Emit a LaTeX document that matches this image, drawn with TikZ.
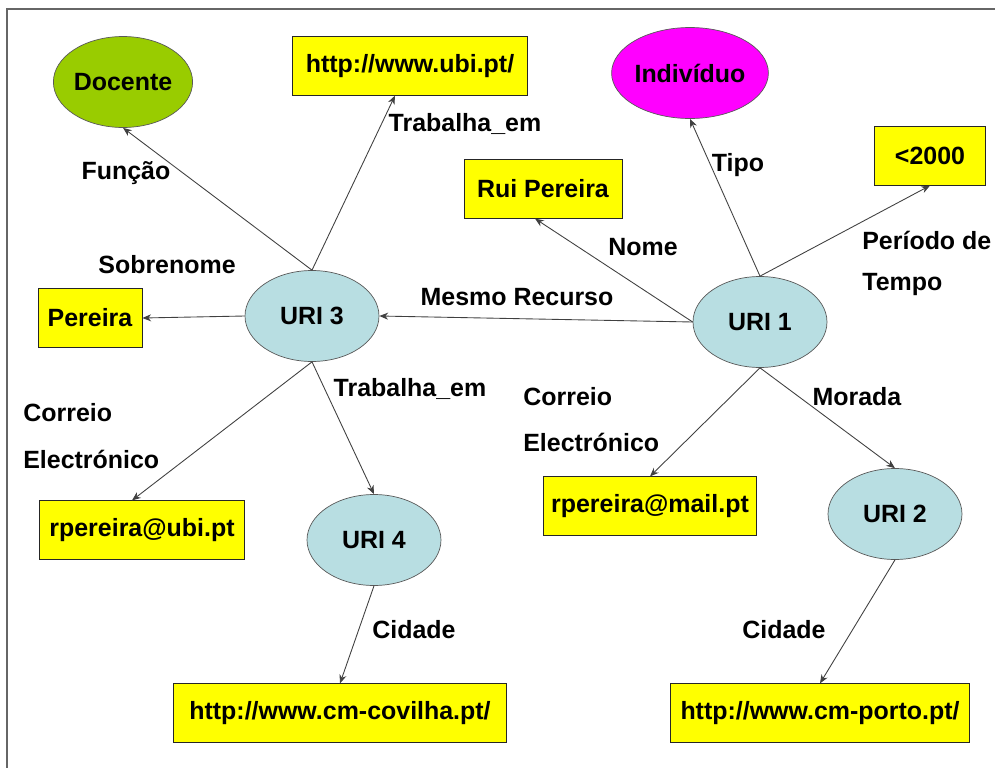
\documentclass[tikz,border=0pt]{standalone}
\usepackage{fontspec}
\setmainfont{Liberation Sans}
\usetikzlibrary{shapes.geometric, arrows.meta}

\definecolor{amarelo}{HTML}{FFFF00}
\definecolor{azulclaro}{HTML}{B8DEE2}
\definecolor{verde}{HTML}{99CC00}
\definecolor{magenta}{HTML}{FF00FF}

\begin{document}
\begin{tikzpicture}[x=0.02cm, y=-0.02cm,
		literal/.style={draw=black!85, fill=amarelo, minimum height=1.17cm, inner sep=0pt},
		recurso/.style={ellipse, draw=black!65, fill=azulclaro, minimum width=2.68cm, minimum height=1.82cm, inner sep=0pt},
		rotulo/.style={inner sep=0pt},
		seta/.style={draw=black!75, line width=0.5pt, -{Stealth[length=5pt,width=4pt]}}]
			\useasboundingbox (0,0) rectangle (995,768);
			\fontsize{14.2}{16}\selectfont\bfseries
			\draw[black!60, line width=1.1pt] (7,768) -- (7,9) -- (995,9);
			
			\node[recurso, fill=verde] (docente) at (123,82) {Docente};
			\node[recurso, fill=magenta] (indiv) at (690,73) {Indivíduo};
			\node[recurso] (uri3) at (312,316) {URI 3};
			\node[recurso] (uri1) at (760,322) {URI 1};
			\node[recurso] (uri4) at (374,540) {URI 4};
			\node[recurso] (uri2) at (895,514) {URI 2};
			
			\node[literal, minimum width=4.7cm] (ubi) at (410,66) {http://www.ubi.pt/};
			\node[literal, minimum width=2.22cm] (ano) at (930,156) {<2000};
			\node[literal, minimum width=3.16cm] (rui) at (543,189) {Rui Pereira};
			\node[literal, minimum width=2.08cm] (pereira) at (90,318) {Pereira};
			\node[literal, minimum width=4.1cm] (ubimail) at (142,530) {rpereira@ubi.pt};
			\node[literal, minimum width=4.26cm] (mail) at (650,506) {rpereira@mail.pt};
			\node[literal, minimum width=6.66cm] (covilha) at (340,713) {http://www.cm-covilha.pt/};
			\node[literal, minimum width=5.98cm] (porto) at (820,713) {http://www.cm-porto.pt/};
			
			\draw[seta] (uri3.north) -- (docente.south);
			\draw[seta] (uri3.north) -- ([xshift=-0.3cm]ubi.south);
			\draw[seta] (uri3.west) -- (pereira.east);
			\draw[seta] (uri3.south) -- ([xshift=-0.2cm]ubimail.north);
			\draw[seta] (uri3.south) -- (uri4.north);
			\draw[seta] (uri4.south) -- (covilha.north);
			\draw[seta] (uri1.west) -- (uri3.east);
			\draw[seta] (uri1.west) -- ([xshift=-0.16cm]rui.south);
			\draw[seta] (uri1.north) -- (indiv.south);
			\draw[seta] (uri1.north) -- (ano.south);
			\draw[seta] (uri1.south) -- (mail.north);
			\draw[seta] (uri1.south) -- (uri2.north);
			\draw[seta] (uri2.south) -- (porto.north);
			
			\node[rotulo] (lfuncao) at (126,173) {Função};
			\node[rotulo] (ltrab1) at (465,124) {Trabalha\_em};
			\node[rotulo] (lsobre) at (167,265) {Sobrenome};
			\node[rotulo, anchor=west] (lcorr3) at (23,413) {Correio};
			\node[rotulo, anchor=west] (lelec3) at (23,459) {Electrónico};
			\node[rotulo] (ltrab2) at (410,389) {Trabalha\_em};
			\node[rotulo] (lmesmo) at (517,297) {Mesmo Recurso};
			\node[rotulo] (lnome) at (643,247) {Nome};
			\node[rotulo] (ltipo) at (738,165) {Tipo};
			\node[rotulo, anchor=west] (lper) at (862,240) {Período de};
			\node[rotulo, anchor=west] (ltempo) at (862,285) {Tempo};
			\node[rotulo, anchor=west] (lcorr1) at (523,397) {Correio};
			\node[rotulo, anchor=west] (lelec1) at (523,442) {Electrónico};
			\node[rotulo] (lmorada) at (857,397) {Morada};
			\node[rotulo] (lcid4) at (414,630) {Cidade};
			\node[rotulo] (lcid2) at (784,630) {Cidade};
		\end{tikzpicture}
\end{document}
